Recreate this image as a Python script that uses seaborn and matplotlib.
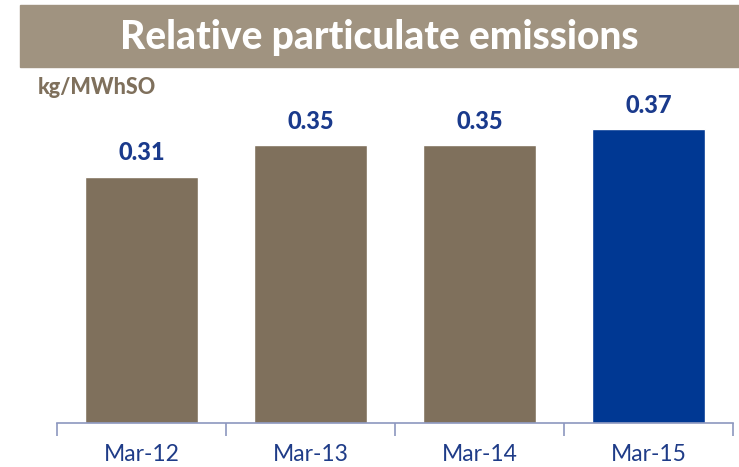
import matplotlib
matplotlib.use("Agg")
import matplotlib.pyplot as plt
import seaborn as sns

categories = ["Mar-12", "Mar-13", "Mar-14", "Mar-15"]
values = [0.31, 0.35, 0.35, 0.37]
bar_colors = ["#7F705C", "#7F705C", "#7F705C", "#003893"]
title = "Relative particulate emissions"
unit = "kg/MWhSO"

sns.set_theme(style="white")
plt.rcParams["font.family"] = ["Lato", "DejaVu Sans"]

fig = plt.figure(figsize=(7.39, 4.67), dpi=100)
ax = fig.add_axes([57 / 739, 1 - 423 / 467, (733 - 57) / 739, (423 - 89) / 467])

sns.barplot(x=categories, y=values, hue=categories, palette=bar_colors,
            legend=False, width=0.67, saturation=1, ax=ax)

ax.set_xlim(-0.5, 3.5)
ax.set_ylim(0, 0.4207)
ax.set_xlabel("")
ax.set_ylabel("")
ax.set_yticks([])
for side in ["top", "right", "left"]:
    ax.spines[side].set_visible(False)
ax.spines["bottom"].set_color("#8C97BF")
ax.spines["bottom"].set_linewidth(1.2)

# category separators below the baseline
ax.set_xticks([-0.5, 0.5, 1.5, 2.5, 3.5], minor=True)
ax.tick_params(axis="x", which="minor", length=9, width=1.2, color="#8C97BF",
               direction="out", bottom=True)
ax.tick_params(axis="x", which="major", length=0, pad=15, labelsize=16.5,
               labelcolor="#1F3C88")

# value labels
for i, v in enumerate(values):
    ax.annotate(f"{v:.2f}", xy=(i, v), xytext=(0, 9), textcoords="offset points",
                ha="center", va="bottom", fontsize=17, fontweight="black",
                color="#1A3A8C")

# title band
fig.patches.append(plt.Rectangle((20 / 739, 1 - 67 / 467), 1 - 20 / 739, 62 / 467,
                                 transform=fig.transFigure, color="#A09380",
                                 zorder=0))
fig.text(379 / 739, 1 - 38 / 467, title, ha="center", va="center",
         fontsize=28, fontweight="black", color="white")
fig.text(38 / 739, 1 - 88 / 467, unit, ha="left", va="center",
         fontsize=15.5, fontweight="black", color="#7F705C")

fig.savefig("out.png", dpi=100)
